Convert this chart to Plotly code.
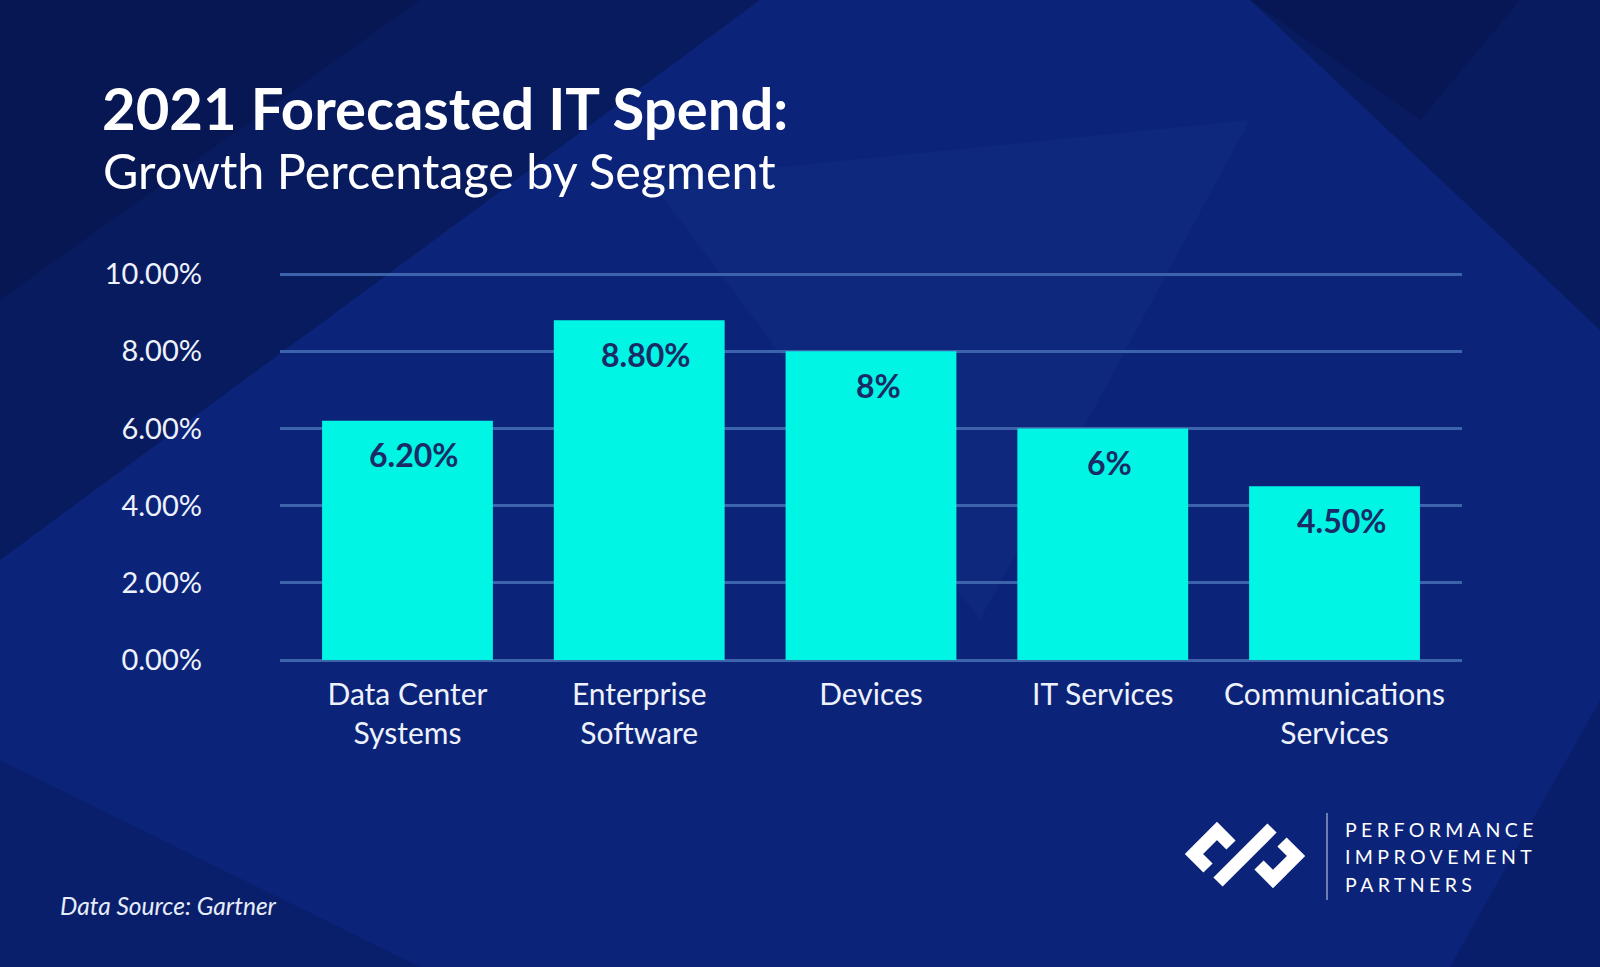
import plotly.graph_objects as go

# ---- data ----
categories = ["Data Center<br>Systems", "Enterprise<br>Software", "Devices",
              "IT Services", "Communications<br>Services"]
growth = [0.062, 0.088, 0.08, 0.06, 0.045]
bar_labels = ["6.20%", "8.80%", "8%", "6%", "4.50%"]
y_ticks = [0, 0.02, 0.04, 0.06, 0.08, 0.10]
y_tick_text = ["0.00%", "2.00%", "4.00%", "6.00%", "8.00%", "10.00%"]

title_text = "2021 Forecasted IT Spend:"
subtitle_text = "Growth Percentage by Segment"
source_text = "Data Source: Gartner"
logo_lines = ["PERFORMANCE", "IMPROVEMENT", "PARTNERS"]

# ---- layout geometry ----
W, H = 1600, 967
L, R, T, B = 280, 138, 271, 307
PW = W - L - R
PH = H - T - B
Y_TOP = 0.1 + 3 / 3860.0


def px(x):
    return (x - L) / PW


def py(y):
    return (H - B - y) / PH


FONT = "Lato"
BAR_COLOR = "#00F5E4"
LABEL_COLOR = "#1a2b66"
GRID_COLOR = "#3d63ad"
BG = "#0b2479"

fig = go.Figure()
fig.add_trace(go.Bar(
    x=categories, y=growth,
    marker=dict(color=BAR_COLOR, line=dict(width=0)),
    width=0.737,
    hoverinfo="skip",
))

annotations = []
for c, v, t in zip(categories, growth, bar_labels):
    annotations.append(dict(
        x=c, y=v, xref="x", yref="y", text=t, showarrow=False,
        yanchor="middle", yshift=-34, xshift=7,
        font=dict(family=FONT, size=32, color=LABEL_COLOR, weight="bold"),
    ))

# title / subtitle / source
annotations.append(dict(
    x=px(100), y=py(107), xref="paper", yref="paper", text="<b>" + title_text + "</b>",
    showarrow=False, xanchor="left", yanchor="middle",
    font=dict(family=FONT, size=58, color="white"),
))
annotations.append(dict(
    x=px(101), y=py(170), xref="paper", yref="paper", text=subtitle_text,
    showarrow=False, xanchor="left", yanchor="middle",
    font=dict(family=FONT, size=48.5, color="white"),
))
annotations.append(dict(
    x=px(58), y=py(905), xref="paper", yref="paper", text="<i>" + source_text + "</i>",
    showarrow=False, xanchor="left", yanchor="middle",
    font=dict(family=FONT, size=24.5, color="#e6ecfa"),
))
for i, line in enumerate(logo_lines):
    annotations.append(dict(
        x=px(1343), y=py(829 + i * 27.5), xref="paper", yref="paper",
        text='<span style="letter-spacing:4.4px">' + line + '</span>',
        showarrow=False, xanchor="left", yanchor="middle",
        font=dict(family=FONT, size=19.5, color="white"),
    ))

shapes = []
# subtle background shading
shade = [
    ([(0, 0), (760, 0), (0, 560)], "rgba(4,12,50,0.35)"),
    ([(0, 0), (420, 0), (0, 300)], "rgba(4,12,50,0.25)"),
    ([(1600, 0), (1250, 0), (1600, 330)], "rgba(4,12,50,0.35)"),
    ([(1250, 0), (1520, 0), (1420, 120)], "rgba(4,12,50,0.2)"),
    ([(0, 967), (420, 967), (0, 760)], "rgba(4,12,50,0.18)"),
    ([(650, 180), (1250, 120), (980, 620)], "rgba(40,80,170,0.10)"),
    ([(1450, 967), (1600, 700), (1600, 967)], "rgba(4,12,50,0.2)"),
]
for pts, col in shade:
    path = "M " + " L ".join("%f,%f" % (px(x), py(y)) for x, y in pts) + " Z"
    shapes.append(dict(type="path", xref="paper", yref="paper", layer="below",
                       path=path, fillcolor=col, line=dict(width=0)))

# logo icon
cx, cy = 1245, 855
left_piece = [(1231, 845), (1217, 831), (1194, 854), (1208, 868)]
right_piece = [(2 * cx - x, 2 * cy - y) for x, y in left_piece]
slash = [(1218, 882), (1272, 828)]
for pts in (left_piece, right_piece, slash):
    path = "M " + " L ".join("%f,%f" % (px(x), py(y)) for x, y in pts)
    shapes.append(dict(type="path", xref="paper", yref="paper", path=path,
                       line=dict(color="white", width=13)))
# divider
shapes.append(dict(type="line", xref="paper", yref="paper",
                   x0=px(1327), x1=px(1327), y0=py(813), y1=py(900),
                   line=dict(color="rgba(255,255,255,0.55)", width=1.5)))

fig.update_layout(
    width=W, height=H,
    margin=dict(l=L, r=R, t=T, b=B, pad=0),
    paper_bgcolor=BG, plot_bgcolor="rgba(0,0,0,0)",
    font=dict(family=FONT, color="white"),
    showlegend=False,
    bargap=0.26,
    annotations=annotations,
    shapes=shapes,
    xaxis=dict(range=[-0.55, 4.55], showgrid=False, zeroline=False, showline=False,
               ticks="", tickfont=dict(family=FONT, size=30, color="#eef2fc"),
               ticklabelstandoff=14, fixedrange=True),
    yaxis=dict(range=[0, Y_TOP], tickvals=y_ticks, ticktext=y_tick_text,
               showgrid=True, gridcolor=GRID_COLOR, gridwidth=3,
               zeroline=True, zerolinecolor=GRID_COLOR, zerolinewidth=3,
               showline=False, ticks="",
               tickfont=dict(family=FONT, size=29, color="#eef2fc"),
               ticklabelstandoff=77, fixedrange=True),
)

fig.write_html("out.html")
